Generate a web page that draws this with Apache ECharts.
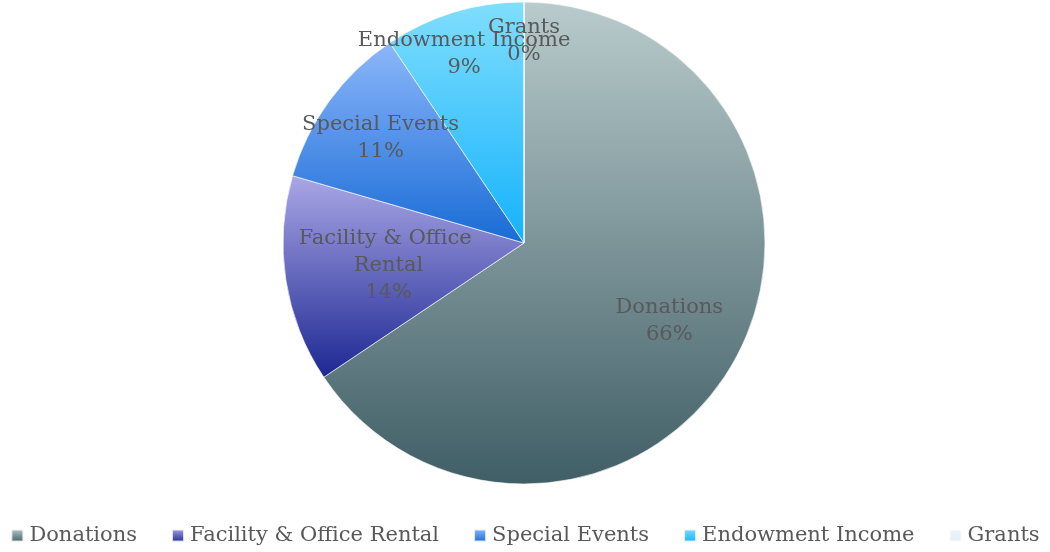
<!DOCTYPE html>
<html>
<head>
<meta charset="utf-8">
<script src="https://cdn.jsdelivr.net/npm/echarts@6/dist/echarts.min.js"></script>
<style>
  html, body { margin: 0; padding: 0; background: #fff; }
  #chart { width: 1050px; height: 552px; }
</style>
</head>
<body>
<div id="chart"></div>
<script>
// data (share of revenue)
const categories = ['Donations', 'Facility & Office Rental', 'Special Events', 'Endowment Income', 'Grants'];
const values = [65.6, 13.9, 11.1, 9.4, 0];

// gradient colours: top -> bottom per slice
const topColors = ['#b9cbcc', '#aaa7e6', '#8cb7fa', '#80defd', '#eef4fa'];
const bottomColors = ['#405e66', '#1c2792', '#186bd6', '#14b2fc', '#e4ecf6'];

// small nudges so the data labels sit where the original put them
const labelNudge = {
  'Donations': [-6, -3],
  'Facility & Office Rental': [34, -4],
  'Special Events': [-5, -4],
  'Endowment Income': [-10, -25],
  'Grants': [0, -30]
};

function grad(i) {
  return new echarts.graphic.LinearGradient(0, 0, 0, 1, [
    { offset: 0, color: topColors[i] },
    { offset: 1, color: bottomColors[i] }
  ]);
}

const pieData = categories.map((name, i) => ({
  name: name,
  value: values[i],
  itemStyle: { color: grad(i) }
}));

const labelData = categories.map((name, i) => ({
  name: name,
  value: values[i],
  label: { offset: labelNudge[name] }
}));

const textFont = 'DejaVu Serif';

const chart = echarts.init(document.getElementById('chart'));
chart.setOption({
  animation: false,
  legend: {
    bottom: 6,
    left: 'center',
    padding: 0,
    itemWidth: 12,
    itemHeight: 12,
    itemGap: 34,
    icon: 'rect',
    textStyle: { fontFamily: textFont, fontSize: 21, color: '#595959', padding: [0, 0, 0, 1] },
    data: categories
  },
  series: [
    {
      type: 'pie',
      center: [524, 243],
      radius: [0, 241],
      startAngle: 90,
      clockwise: true,
      percentPrecision: 0,
      stillShowZeroSum: true,
      itemStyle: { borderColor: 'rgba(255,255,255,0.8)', borderWidth: 0.8 },
      label: { show: false },
      labelLine: { show: false },
      emphasis: { disabled: true },
      data: pieData
    },
    {
      // label-only ring so the labels sit further out than the default inside position
      type: 'pie',
      center: [524, 243],
      radius: [96, 241],
      startAngle: 90,
      clockwise: true,
      percentPrecision: 0,
      silent: true,
      legendHoverLink: false,
      avoidLabelOverlap: false,
      labelLayout: { hideOverlap: false },
      itemStyle: { color: 'rgba(0,0,0,0)' },
      label: {
        show: true,
        position: 'inside',
        formatter: '{b}\n{d}%',
        fontFamily: textFont,
        fontSize: 21,
        lineHeight: 27,
        color: '#595959',
        width: 230,
        overflow: 'break',
        align: 'center'
      },
      labelLine: { show: false },
      emphasis: { disabled: true },
      data: labelData
    }
  ]
});
</script>
</body>
</html>
